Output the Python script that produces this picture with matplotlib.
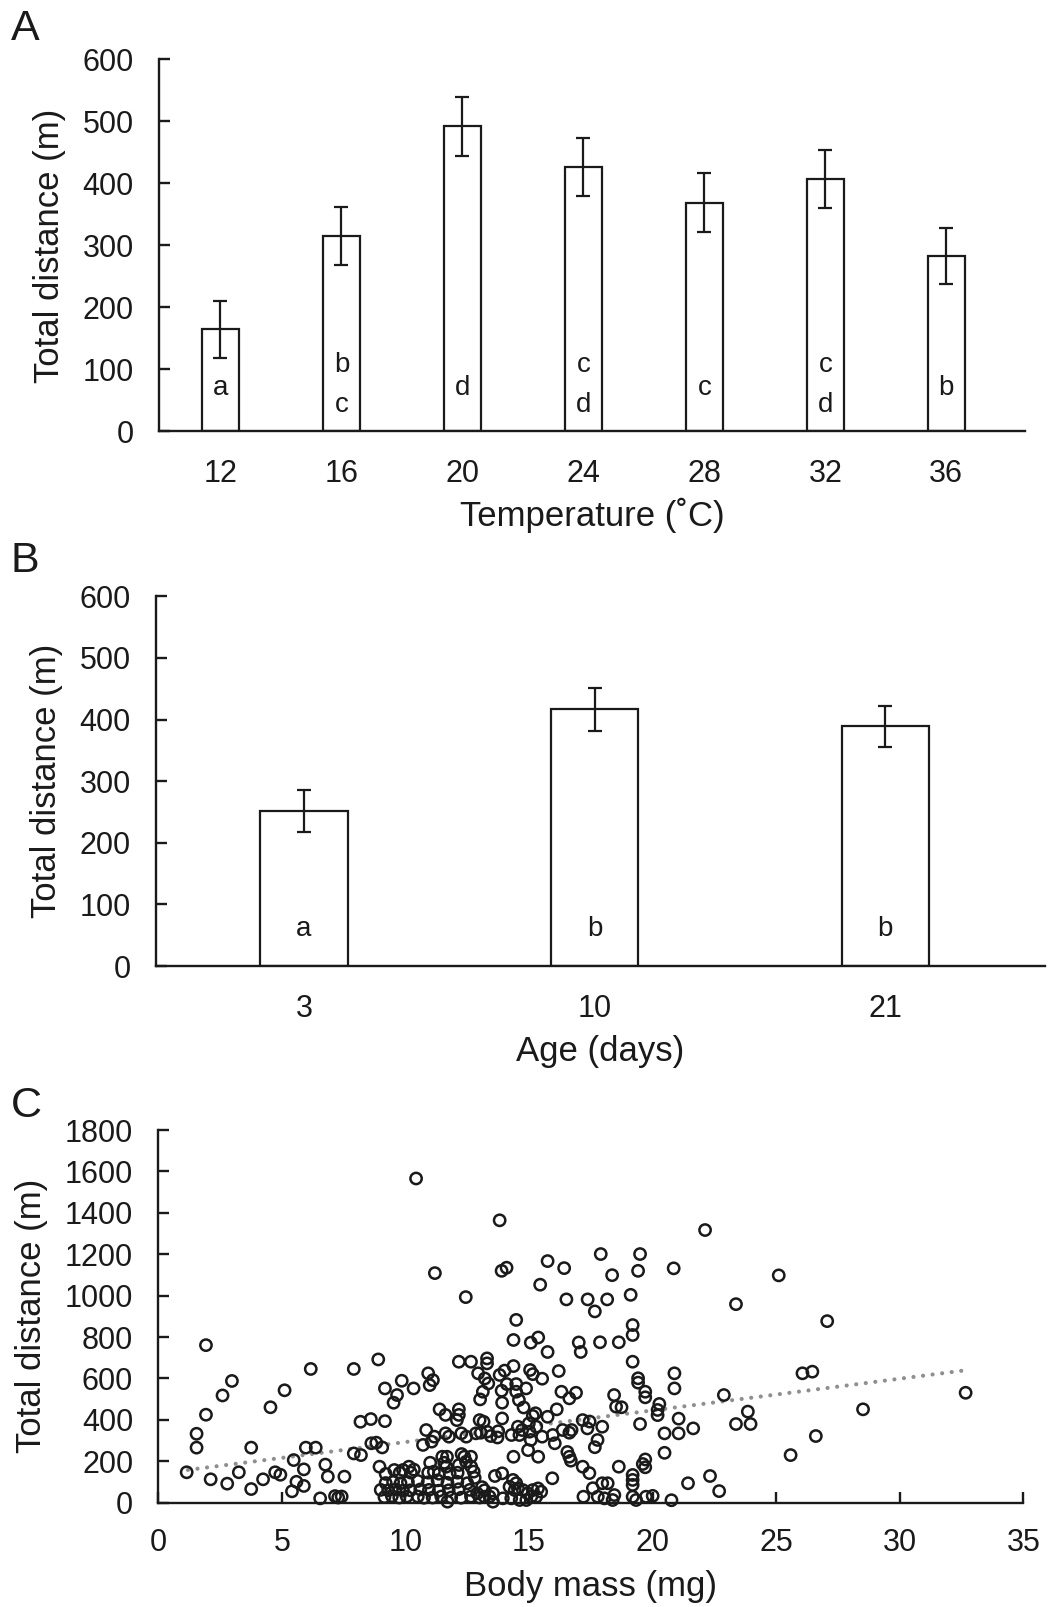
import matplotlib
matplotlib.use('Agg')
import matplotlib.pyplot as plt
import numpy as np

plt.rcParams['font.family'] = ['Liberation Sans', 'DejaVu Sans']

INK = '#1a1a1a'

# --- A: temperature ---
temps = ['12', '16', '20', '24', '28', '32', '36']
temp_mean = [165, 315, 492, 426, 369, 407, 283]
temp_err = [46, 47, 47, 47, 47, 47, 45]
temp_letters = [['a'], ['b', 'c'], ['d'], ['c', 'd'], ['c'], ['c', 'd'], ['b']]

# --- B: age ---
ages = ['3', '10', '21']
age_mean = [251, 417, 389]
age_err = [34, 35, 33]
age_letters = ['a', 'b', 'b']

# --- C: body mass vs distance ---
mass_left = [1.15, 1.93, 1.55, 1.55, 1.93, 2.12, 2.6, 2.98, 2.79, 3.26, 3.76, 3.76, 4.24, 4.54,
             4.73, 4.94, 5.11, 5.48, 5.89, 5.59, 5.89, 5.41, 6.17, 5.97, 6.37, 6.76, 6.86, 6.55,
             7.15, 7.28, 7.42, 7.53, 7.91, 7.91, 8.2, 8.18, 8.6, 8.62, 8.82, 9.06, 8.9, 8.95]
dist_left = [147, 761, 333, 266, 425, 113, 518, 588, 92, 147, 266, 66, 113, 461,
             147, 135, 543, 206, 161, 101, 81, 55, 646, 266, 266, 184, 126, 21,
             32, 25, 30, 126, 646, 238, 230, 391, 404, 287, 290, 267, 692, 174]

mass_high = [10.43, 13.81, 11.19, 12.44, 13.89, 14.09, 15.75, 16.42, 15.45, 16.51, 17.37, 17.66,
             17.9, 14.48, 19.49, 19.41, 18.36, 20.85, 22.12, 25.1, 23.37, 18.16, 19.11, 19.19,
             19.19, 27.06]
dist_high = [1566, 1364, 1109, 993, 1120, 1135, 1167, 1133, 1053, 982, 982, 924,
             1201, 883, 1201, 1120, 1099, 1132, 1317, 1098, 959, 982, 1004, 858,
             810, 877]

mass_mid = [14.37, 15.07, 15.37, 15.75, 17.01, 17.09, 17.87, 12.16, 12.65, 13.3, 13.3, 14.37,
            16.2, 10.92, 11.11, 10.98, 9.85, 9.17, 10.33, 9.66, 9.52, 12.94, 13.21, 13.35,
            13.81, 14.01, 15.04, 15.15, 15.53, 14.1, 14.48, 13.89, 14.88, 13.13, 13.02, 14.48,
            14.59, 14.78, 13.91, 16.31, 16.63, 16.9, 11.38, 11.62, 12.16, 12.16, 12.08, 9.17,
            13.0, 13.16, 13.91, 15.15, 15.26, 15.75, 16.12, 14.99, 17.17, 17.45, 17.96, 10.84,
            11.17, 11.06, 10.71, 11.62, 11.76, 12.26, 12.46, 12.85, 13.05, 13.3, 13.45, 13.72,
            13.75, 14.29, 14.61, 14.55, 14.72, 15.02, 15.29, 15.07, 14.96, 15.53, 15.96, 16.04,
            16.36, 16.63, 16.72, 17.36, 17.77, 17.66, 14.37, 15.37, 11.49, 11.68, 11.57, 12.27,
            12.38, 12.65, 12.45, 12.16, 12.66, 11.0, 16.55, 16.63, 16.69, 9.2, 9.55, 9.77,
            9.9, 10.14, 10.22, 10.34, 10.92, 11.15, 11.35, 11.65, 11.79, 12.11, 12.76, 13.62,
            13.91, 15.94, 17.17, 17.44]
dist_mid = [786, 773, 798, 728, 774, 728, 775, 681, 681, 697, 673, 660,
            636, 625, 592, 568, 589, 552, 552, 520, 483, 625, 600, 576,
            617, 638, 641, 621, 599, 573, 573, 541, 552, 536, 499, 536,
            496, 460, 483, 536, 504, 531, 451, 424, 451, 424, 399, 394,
            399, 391, 407, 419, 432, 415, 451, 383, 399, 392, 367, 351,
            319, 295, 279, 335, 319, 335, 319, 335, 338, 343, 322, 315,
            345, 327, 327, 367, 351, 343, 367, 303, 254, 319, 327, 287,
            351, 338, 351, 359, 303, 268, 222, 222, 222, 222, 193, 235,
            222, 222, 198, 182, 174, 193, 245, 222, 203, 139, 158, 145,
            158, 174, 145, 160, 145, 150, 140, 174, 139, 145, 150, 129,
            142, 118, 174, 143]

mass_right = [19.19, 19.41, 19.41, 19.7, 19.7, 20.88, 20.88, 22.88, 26.06, 26.46, 18.44, 18.52,
              18.74, 20.27, 20.2, 20.2, 21.05, 23.85, 23.37, 23.96, 19.49, 20.48, 21.05, 21.64,
              20.48, 26.6, 25.58, 18.63, 19.7, 19.6, 19.7, 19.19, 19.19, 19.19, 17.96, 18.18,
              17.58, 21.43, 22.32, 22.69, 20.76, 32.66, 28.51, 18.63]
dist_right = [681, 601, 580, 536, 509, 625, 552, 520, 625, 633, 520, 464,
              461, 477, 448, 423, 406, 440, 380, 380, 380, 335, 335, 359,
              241, 322, 230, 174, 209, 187, 171, 134, 110, 86, 94, 94,
              70, 94, 129, 56, 12, 531, 451, 775]

mass_low = [9.2, 9.5, 9.8, 10.1, 10.5, 10.9, 11.3, 11.7, 12.1, 12.5,
            9.0, 9.3, 9.6, 9.9, 10.2, 10.6, 10.95, 11.35, 11.75, 12.15, 12.6,
            9.15, 9.45, 9.75, 10.05, 10.5, 10.75, 11.1, 11.45, 11.85, 12.25, 12.65, 13.0,
            11.7, 12.8, 13.2, 13.4, 13.1, 12.9,
            14.35, 14.48, 14.21, 14.42, 14.55, 13.54, 13.2, 14.75, 14.95, 15.15, 15.36, 15.49,
            15.09, 14.89, 15.29, 14.62, 17.2, 13.94, 14.28, 13.54,
            17.78, 18.05, 18.45, 18.38, 19.19, 19.33, 19.73, 20.0]
dist_low = [95, 100, 94, 100, 105, 98, 108, 96, 101, 94,
            62, 60, 64, 58, 60, 64, 62, 58, 60, 65, 62,
            27, 32, 25, 30, 30, 24, 25, 30, 25, 24, 30, 25,
            5, 120, 60, 30, 75, 45,
            110, 94, 77, 61, 69, 45, 29, 61, 45, 61, 69, 53,
            29, 13, 29, 13, 29, 21, 21, 5,
            29, 21, 37, 13, 29, 13, 29, 33]

body_mass = mass_left + mass_high + mass_mid + mass_right + mass_low
total_dist = dist_left + dist_high + dist_mid + dist_right + dist_low

# dotted regression line
trend_x = [1.2, 32.7]
trend_intercept = 140
trend_slope = 15.3

TICK_FS = 22
LABEL_FS = 25


def style_axis(ax):
    for s in ['top', 'right']:
        ax.spines[s].set_visible(False)
    for s in ['left', 'bottom']:
        ax.spines[s].set_linewidth(1.7)
        ax.spines[s].set_color(INK)
    ax.tick_params(axis='y', direction='in', length=8, width=1.7, color=INK,
                   labelsize=TICK_FS, pad=18, labelcolor=INK)


fig = plt.figure(figsize=(10.48, 16.07), dpi=100)

# ========== A ==========
axA = fig.add_axes([0.1515, 0.7316, 0.8265, 0.2314])
xa = np.arange(len(temps))
axA.bar(xa, temp_mean, width=0.31, color='white', edgecolor=INK, linewidth=1.6,
        yerr=temp_err, error_kw=dict(ecolor=INK, elinewidth=1.6, capsize=5, capthick=1.6))
for i, lets in enumerate(temp_letters):
    if len(lets) == 1:
        axA.text(i, 70, lets[0], ha='center', va='center', fontsize=20, color=INK)
    else:
        axA.text(i, 107, lets[0], ha='center', va='center', fontsize=20, color=INK)
        axA.text(i, 43, lets[1], ha='center', va='center', fontsize=20, color=INK)
axA.set_xlim(-0.51, 6.65)
axA.set_ylim(0, 600)
axA.set_yticks(range(0, 601, 100))
axA.set_xticks(xa)
axA.set_xticklabels(temps)
style_axis(axA)
axA.tick_params(axis='x', length=0, labelsize=TICK_FS, pad=20, labelcolor=INK)
axA.set_ylabel('Total distance (m)', fontsize=LABEL_FS, color=INK, labelpad=12)
axA.set_xlabel('Temperature (˚C)', fontsize=LABEL_FS, color=INK, labelpad=6)

# ========== B ==========
axB = fig.add_axes([0.1486, 0.3988, 0.8485, 0.2301])
xb = np.arange(len(ages))
axB.bar(xb, age_mean, width=0.3, color='white', edgecolor=INK, linewidth=1.6,
        yerr=age_err, error_kw=dict(ecolor=INK, elinewidth=1.6, capsize=5, capthick=1.6))
for i, let in enumerate(age_letters):
    axB.text(i, 61, let, ha='center', va='center', fontsize=20, color=INK)
axB.set_xlim(-0.51, 2.55)
axB.set_ylim(0, 600)
axB.set_yticks(range(0, 601, 100))
axB.set_xticks(xb)
axB.set_xticklabels(ages)
style_axis(axB)
axB.tick_params(axis='x', length=0, labelsize=TICK_FS, pad=20, labelcolor=INK)
axB.set_ylabel('Total distance (m)', fontsize=LABEL_FS, color=INK, labelpad=12)
axB.set_xlabel('Age (days)', fontsize=LABEL_FS, color=INK, labelpad=8)

# ========== C ==========
axC = fig.add_axes([0.151, 0.0649, 0.8256, 0.2319])
axC.scatter(body_mass, total_dist, s=66, facecolors='none', edgecolors=INK,
            linewidths=1.8, zorder=3, clip_on=False)
tx = np.array(trend_x)
axC.plot(tx, trend_intercept + trend_slope * tx, color='#8f8f8f', lw=3.0,
         ls=(0, (0.01, 2.3)), dash_capstyle='round', zorder=2)
axC.set_xlim(0, 35)
axC.set_ylim(0, 1800)
axC.set_xticks(range(0, 36, 5))
axC.set_yticks(range(0, 1801, 200))
style_axis(axC)
axC.tick_params(axis='x', direction='in', length=8, width=1.7, color=INK,
                labelsize=TICK_FS, pad=18, labelcolor=INK)
axC.set_ylabel('Total distance (m)', fontsize=LABEL_FS, color=INK, labelpad=12)
axC.set_xlabel('Body mass (mg)', fontsize=LABEL_FS, color=INK, labelpad=9)

# panel letters
fig.text(0.010, 0.982, 'A', fontsize=31, color=INK, va='center')
fig.text(0.010, 0.651, 'B', fontsize=31, color=INK, va='center')
fig.text(0.010, 0.312, 'C', fontsize=31, color=INK, va='center')

fig.savefig('out.png', dpi=100)
